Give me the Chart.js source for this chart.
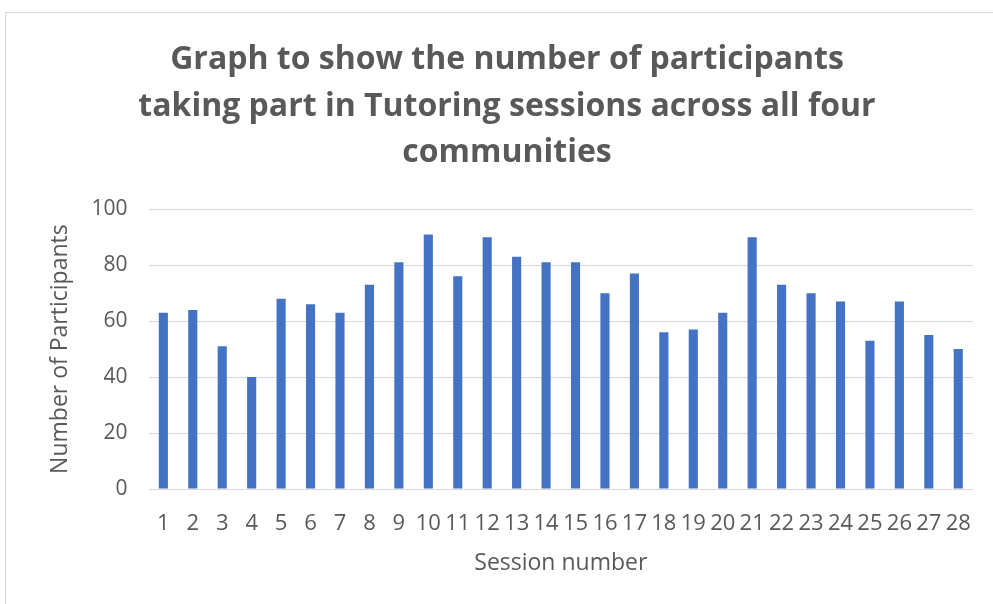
<!DOCTYPE html>
<html lang="en">
<head>
  <meta charset="UTF-8" />
  <title>Tutoring sessions</title>
  <script src="https://cdn.jsdelivr.net/npm/chart.js"></script>
  <style>
    html, body { margin: 0; padding: 0; background: #fff; }
    .frame {
      position: absolute; left: 5px; top: 12px; width: 1000px; height: 600px;
      border-left: 1px solid #d9d9d9; border-top: 1px solid #d9d9d9;
    }
    #wrap { position: absolute; left: 0; top: 0; width: 993px; height: 604px; }
  </style>
</head>
<body>
  <div class="frame"></div>
  <div id="wrap"><canvas id="chart"></canvas></div>
  <script>
    const sessions = ["1","2","3","4","5","6","7","8","9","10","11","12","13","14",
                      "15","16","17","18","19","20","21","22","23","24","25","26","27","28"];
    const participants = [63, 64, 51, 40, 68, 66, 63, 73, 81, 91, 76, 90, 83, 81,
                          81, 70, 77, 56, 57, 63, 90, 73, 70, 67, 53, 67, 55, 50];
    const titleLines = ["Graph to show the number of participants",
                        "taking part in Tutoring sessions across all four",
                        "communities"];

    const grey = "#595959";
    const font = "Open Sans";

    new Chart(document.getElementById("chart"), {
      type: "bar",
      data: {
        labels: sessions,
        datasets: [{
          label: "Participants",
          data: participants,
          backgroundColor: "#4472c4",
          barPercentage: 0.31,
          categoryPercentage: 1.0
        }]
      },
      options: {
        responsive: true,
        maintainAspectRatio: false,
        animation: false,
        layout: { padding: { left: 30, right: 9, top: 37, bottom: 22 } },
        plugins: {
          legend: { display: false },
          tooltip: { enabled: false },
          title: {
            display: true,
            text: titleLines,
            color: grey,
            font: { family: font, size: 32, weight: "bold", lineHeight: 1.45 },
            padding: { top: 0, bottom: 33 }
          }
        },
        scales: {
          x: {
            grid: { display: false, drawTicks: false },
            border: { display: false },
            ticks: { color: grey, font: { family: font, size: 22 }, maxRotation: 0, autoSkip: false, padding: 22 },
            title: { display: true, text: "Session number", color: grey, font: { family: font, size: 23 }, padding: { top: 0, bottom: 5 } },
            afterFit: axis => { axis.height = 93; }
          },
          y: {
            min: 0, max: 100,
            ticks: { stepSize: 20, color: grey, font: { family: font, size: 21 }, padding: 21 },
            grid: { color: "#d9d9d9", drawTicks: false },
            border: { display: false },
            title: { display: true, text: "Number of Participants", color: grey, font: { family: font, size: 23 }, padding: { top: 17, bottom: -4 } }
          }
        }
      }
    });
  </script>
</body>
</html>
